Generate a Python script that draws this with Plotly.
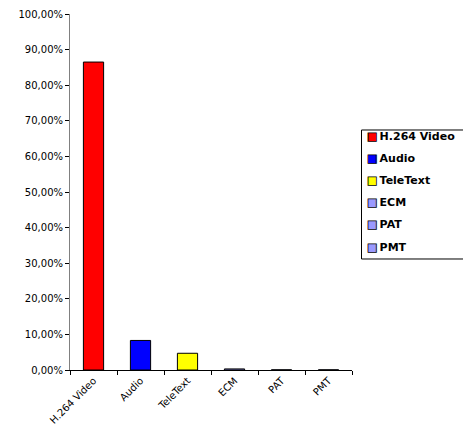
import plotly.graph_objects as go

categories = ["H.264 Video", "Audio", "TeleText", "ECM", "PAT", "PMT"]
values = [0.865, 0.083, 0.047, 0.003, 0.0005, 0.0005]
colors = ["#FF0000", "#0000FF", "#FFFF00", "#9999FF", "#9999FF", "#9999FF"]

TICK_FONT = dict(family="DejaVu Sans, Arial, sans-serif", size=10, color="#000000")
LEG_FONT = dict(family="DejaVu Sans, Arial, sans-serif", size=11, color="#000000", weight="bold")

fig = go.Figure()
for c, v, col in zip(categories, values, colors):
    fig.add_trace(go.Bar(
        x=[c], y=[v], name=c, width=0.43, legendgroup=c, showlegend=False,
        marker=dict(color=col, line=dict(color="#000000", width=1)),
    ))
# legend entries (key drawn as an outlined coloured square glyph)
for c, col in zip(categories, colors):
    fig.add_trace(go.Scatter(
        x=[None], y=[None], mode="none", legendgroup=c, showlegend=True,
        name=f'<span style="color:{col};stroke:#000000;stroke-width:0.8px">■</span>\u2009{c}',
    ))

fig.update_layout(
    width=463, height=431,
    margin=dict(l=70, r=111, t=14, b=61, autoexpand=False),
    paper_bgcolor="white", plot_bgcolor="white",
    barmode="overlay",
    separators=",.",
    font=TICK_FONT,
    showlegend=True,
    legend=dict(
        x=0.9113, y=0.6986, xanchor="left", yanchor="top",
        bgcolor="rgba(0,0,0,0)", borderwidth=0,
        font=LEG_FONT, tracegroupgap=3.1,
    ),
    shapes=[dict(
        type="rect", xref="paper", yref="paper",
        x0=1.0337, x1=1.42, y0=0.3118, y1=0.6742,
        line=dict(color="#000000", width=1), fillcolor="rgba(0,0,0,0)", layer="below",
    )],
    xaxis=dict(
        type="category", categoryorder="array", categoryarray=categories,
        showline=True, linecolor="#000000", linewidth=1,
        ticks="outside", ticklen=4, tickcolor="#000000", tickson="boundaries",
        tickangle=-45, showgrid=False, range=[-0.5, 5.5],
        tickfont=TICK_FONT,
    ),
    yaxis=dict(
        range=[0, 1.0], dtick=0.1, tickformat=".2%",
        showline=True, linecolor="#808080", linewidth=1,
        ticks="outside", ticklen=4, tickcolor="#000000",
        showgrid=False, zeroline=False,
        tickfont=TICK_FONT,
    ),
)

fig.write_html("out.html")
